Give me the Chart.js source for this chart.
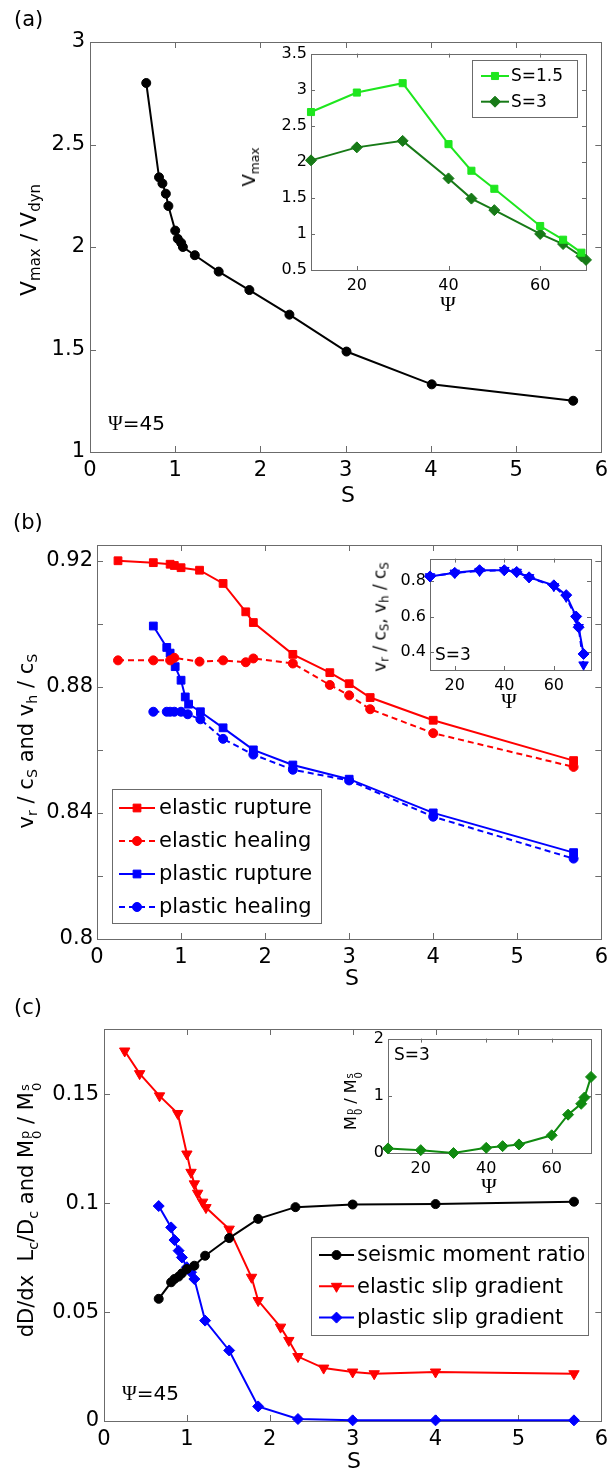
<!DOCTYPE html>
<html>
<head>
<meta charset="utf-8">
<script src="https://cdn.jsdelivr.net/npm/chart.js@4.4.1/dist/chart.umd.min.js"></script>
<style>
  html, body { margin: 0; padding: 0; background: #fff; }
  #fig { position: relative; width: 614px; height: 1477px; overflow: hidden;
         font-family: 'DejaVu Sans', sans-serif; color: #000; }
  canvas { position: absolute; }
  .t { position: absolute; white-space: nowrap; line-height: 1; }
  .c { transform: translate(-50%, -50%); }
  .r { transform: translate(-50%, -50%) rotate(-90deg); }
  sub { font-size: 0.68em; vertical-align: -0.3em; line-height: 0; }
  .ss { display: inline-flex; flex-direction: column; font-size: 0.62em; line-height: 0.95;
        vertical-align: 0.32em; margin-left: 1px; }
  .g { font-family: 'Liberation Serif', serif; }
</style>
</head>
<body>
<div id="fig">
  <canvas id="mainA"></canvas>
  <canvas id="mainB"></canvas>
  <canvas id="mainC"></canvas>
  <canvas id="insetA"></canvas>
  <canvas id="insetB"></canvas>
  <canvas id="insetC"></canvas>

  <div class="t" style="left:14px;top:9px;font-size:21px">(a)</div>
  <div class="t" style="left:13px;top:512px;font-size:21px">(b)</div>
  <div class="t" style="left:14px;top:997px;font-size:21px">(c)</div>

  <div class="t r" style="left:29px;top:240px;font-size:22px">V<sub>max</sub> / V<sub>dyn</sub></div>
  <div class="t c" style="left:348px;top:495px;font-size:22px">S</div>
  <div class="t" style="left:108px;top:413px;font-size:20px"><span class="g">Ψ</span>=45</div>
  <div class="t r" style="left:249px;top:167px;font-size:18px">V<sub>max</sub></div>
  <div class="t c g" style="left:448px;top:304px;font-size:21px">Ψ</div>

  <div class="t r" style="left:26px;top:741px;font-size:21px">v<sub>r</sub> / c<sub>S</sub> and v<sub>h</sub> / c<sub>S</sub></div>
  <div class="t c" style="left:352px;top:978px;font-size:22px">S</div>
  <div class="t r" style="left:380px;top:617px;font-size:17px">v<sub>r</sub> / c<sub>S</sub>, v<sub>h</sub> / c<sub>S</sub></div>
  <div class="t c g" style="left:509px;top:701px;font-size:21px">Ψ</div>
  <div class="t" style="left:435px;top:646px;font-size:17px">S=3</div>

  <div class="t r" style="left:30px;top:1210px;font-size:21px">dD/dx&nbsp; L<sub>c</sub>/D<sub>c</sub> and M<span class="ss"><span>p</span><span>0</span></span> / M<span class="ss"><span>s</span><span>0</span></span></div>
  <div class="t c" style="left:354px;top:1461px;font-size:22px">S</div>
  <div class="t" style="left:122px;top:1383px;font-size:20px"><span class="g">Ψ</span>=45</div>
  <div class="t r" style="left:353px;top:1101px;font-size:16px">M<span class="ss"><span>p</span><span>0</span></span> / M<span class="ss"><span>s</span><span>0</span></span></div>
  <div class="t c g" style="left:489px;top:1186px;font-size:21px">Ψ</div>
  <div class="t" style="left:394px;top:1046px;font-size:17px">S=3</div>
</div>

<script>
// ──────────────────────────────────────────────
// Data
// ──────────────────────────────────────────────

// (a) V_max / V_dyn against S, Psi = 45
const aS = [0.66, 0.81, 0.85, 0.89, 0.92, 1.00, 1.03, 1.07, 1.09, 1.23, 1.51, 1.87, 2.34, 3.01, 4.01, 5.67];
const aV = [2.80, 2.34, 2.31, 2.26, 2.20, 2.08, 2.04, 2.02, 2.00, 1.96, 1.88, 1.79, 1.67, 1.49, 1.33, 1.25];

// (a) inset: V_max against Psi
const inAPsi15 = [10, 20, 30, 40, 45, 50, 60, 65, 69];
const inAV15 = [2.69, 2.96, 3.09, 2.245, 1.876, 1.626, 1.11, 0.92, 0.74];
const inAPsi3 = [10, 20, 30, 40, 45, 50, 60, 65, 69, 70];
const inAV3 = [2.02, 2.20, 2.29, 1.77, 1.49, 1.33, 1.00, 0.86, 0.69, 0.64];

// (b) rupture / healing speeds against S
const bElRupS = [0.25, 0.67, 0.87, 0.92, 1.0, 1.22, 1.5, 1.77, 1.86, 2.33, 2.77, 3.0, 3.25, 4.0, 5.67];
const bElRupV = [0.9200, 0.9194, 0.9189, 0.9185, 0.9178, 0.9170, 0.9128, 0.9038, 0.9004, 0.8903, 0.8845, 0.8810, 0.8766, 0.8694, 0.8566];
const bElHealS = [0.25, 0.67, 0.87, 0.92, 1.22, 1.5, 1.77, 1.86, 2.33, 2.77, 3.0, 3.25, 4.0, 5.67];
const bElHealV = [0.8884, 0.8884, 0.8884, 0.8892, 0.8880, 0.8884, 0.8878, 0.8890, 0.8874, 0.8806, 0.8773, 0.8729, 0.8653, 0.8546];
const bPlRupS = [0.67, 0.83, 0.87, 0.93, 1.0, 1.05, 1.09, 1.23, 1.5, 1.86, 2.33, 3.0, 4.0, 5.67];
const bPlRupV = [0.8993, 0.8925, 0.8907, 0.8864, 0.8821, 0.8768, 0.8745, 0.8721, 0.8670, 0.8600, 0.8552, 0.8507, 0.8400, 0.8274];
const bPlHealS = [0.67, 0.83, 0.87, 0.92, 1.0, 1.08, 1.23, 1.5, 1.86, 2.33, 3.0, 4.0, 5.67];
const bPlHealV = [0.8721, 0.8721, 0.8721, 0.8721, 0.8721, 0.8713, 0.8697, 0.8635, 0.8585, 0.8537, 0.8503, 0.8388, 0.8255];

// (b) inset: S = 3, against Psi
const inBPsi = [10, 20, 30, 40, 45, 50, 60, 65, 69, 70, 72];
const inBRup = [0.825, 0.845, 0.860, 0.860, 0.850, 0.820, 0.775, 0.720, 0.600, 0.540, 0.390];
const inBHeal = [0.825, 0.845, 0.855, 0.860, 0.850, 0.820, 0.770, 0.710, 0.590, 0.540, 0.330];

// (c) slip gradients and moment ratio against S
const cMomS = [0.66, 0.81, 0.85, 0.90, 0.94, 1.0, 1.09, 1.22, 1.51, 1.86, 2.31, 3.0, 4.0, 5.67];
const cMomV = [0.0561, 0.0637, 0.0652, 0.0663, 0.0678, 0.0698, 0.0713, 0.0759, 0.0840, 0.0928, 0.0982, 0.0994, 0.0996, 0.1007];
const cElS = [0.25, 0.43, 0.67, 0.89, 1.0, 1.05, 1.09, 1.13, 1.19, 1.23, 1.51, 1.78, 1.86, 2.13, 2.23, 2.34, 2.65, 3.0, 3.26, 4.0, 5.67];
const cElV = [0.1699, 0.1595, 0.1493, 0.1412, 0.1226, 0.1142, 0.1089, 0.1046, 0.1005, 0.0980, 0.0881, 0.0660, 0.0553, 0.0431, 0.0370, 0.0296, 0.0243, 0.0225, 0.0217, 0.0225, 0.0217];
const cPlS = [0.66, 0.81, 0.85, 0.90, 0.94, 1.0, 1.05, 1.09, 1.22, 1.51, 1.86, 2.34, 3.0, 4.0, 5.67];
const cPlV = [0.0987, 0.0889, 0.0831, 0.0782, 0.0751, 0.0706, 0.0683, 0.0652, 0.0461, 0.0324, 0.0067, 0.0009, 0.0003, 0.0003, 0.0003];

// (c) inset: M0p / M0s against Psi, S = 3
const inCPsi = [10, 20, 30, 40, 45, 50, 60, 65, 69, 70, 72];
const inCM = [0.08, 0.05, 0.00, 0.09, 0.12, 0.15, 0.31, 0.67, 0.86, 0.97, 1.33];

// ── Ticks ──
const sTicks = [0, 1, 2, 3, 4, 5, 6];
const aYTicks = [1, 1.5, 2, 2.5, 3];
const bYTicks = [0.80, 0.82, 0.84, 0.86, 0.88, 0.90, 0.92];
const bYLabels = [0.80, 0.84, 0.88, 0.92];
const cYTicks = [0, 0.05, 0.1, 0.15];
const psiTicks = [20, 40, 60];
const inAYTicks = [0.5, 1, 1.5, 2, 2.5, 3, 3.5];
const inBYTicks = [0.4, 0.6, 0.8];
const inCYTicks = [0, 1, 2];

// ── Colours ──
const RED = '#ff0000', BLUE = '#0000ff', BLACK = '#000000';
const LIGHT_GREEN = '#1ee61e', DARK_GREEN = '#177a17', MID_GREEN = '#108a10';

Chart.defaults.font.family = "'DejaVu Sans', sans-serif";
Chart.defaults.color = '#000';

const fmt = v => String(+v.toFixed(3));

// ── Plugins ──
// white plot background for the insets
const insetFill = {
  id: 'insetFill',
  beforeDraw(chart, args, o) {
    if (!o.on) return;
    const a = chart.chartArea;
    chart.ctx.save();
    chart.ctx.fillStyle = '#fff';
    chart.ctx.fillRect(a.left, a.top, a.right - a.left, a.bottom - a.top);
    chart.ctx.restore();
  }
};

// MATLAB-style box with inward ticks on all four sides
const boxTicks = {
  id: 'boxTicks',
  beforeDatasetsDraw(chart, args, o) {
    const { ctx, chartArea: a, scales } = chart;
    const len = o.len || 6;
    ctx.save();
    ctx.strokeStyle = '#6b6b6b';
    ctx.lineWidth = 1;
    ctx.beginPath();
    const xs = scales.x, ys = scales.y;
    xs.ticks.forEach(t => {
      if (t.value <= xs.min || t.value >= xs.max) return;
      const p = Math.round(xs.getPixelForValue(t.value)) + 0.5;
      ctx.moveTo(p, a.top); ctx.lineTo(p, a.top + len);
      ctx.moveTo(p, a.bottom); ctx.lineTo(p, a.bottom - len);
    });
    ys.ticks.forEach(t => {
      if (t.value <= ys.min || t.value >= ys.max) return;
      const p = Math.round(ys.getPixelForValue(t.value)) + 0.5;
      ctx.moveTo(a.left, p); ctx.lineTo(a.left + len, p);
      ctx.moveTo(a.right, p); ctx.lineTo(a.right - len, p);
    });
    ctx.stroke();
    ctx.strokeRect(Math.round(a.left) + 0.5, Math.round(a.top) + 0.5,
                   Math.round(a.right - a.left), Math.round(a.bottom - a.top));
    ctx.restore();
  }
};

// boxed legend placed inside the plot
const boxLegend = {
  id: 'boxLegend',
  afterDraw(chart, args, o) {
    if (!o.w) return;
    const ctx = chart.ctx;
    const x = o.x - o.ox, y = o.y - o.oy;
    ctx.save();
    ctx.fillStyle = '#fff';
    ctx.fillRect(x, y, o.w, o.h);
    ctx.strokeStyle = '#6b6b6b';
    ctx.lineWidth = 1;
    ctx.strokeRect(x + 0.5, y + 0.5, o.w, o.h);
    ctx.font = o.size + "px 'DejaVu Sans'";
    ctx.textBaseline = 'middle';
    chart.data.datasets.forEach((ds, i) => {
      const yy = o.row0 - o.oy + i * o.step;
      const x0 = o.line0 - o.ox, x1 = o.line1 - o.ox;
      ctx.strokeStyle = ds.borderColor;
      ctx.fillStyle = ds.borderColor;
      ctx.lineWidth = ds.borderWidth;
      ctx.setLineDash(ds.borderDash);
      ctx.beginPath(); ctx.moveTo(x0, yy); ctx.lineTo(x1, yy); ctx.stroke();
      ctx.setLineDash([]);
      ctx.lineWidth = 1;
      Chart.helpers.drawPoint(ctx, {
        pointStyle: ds.pointStyle, rotation: ds.pointRotation || 0,
        radius: ds.pointRadius, borderWidth: 1
      }, (x0 + x1) / 2, yy);
      ctx.fillStyle = '#000';
      ctx.fillText(ds.label, o.text - o.ox, yy + 1);
    });
    ctx.restore();
  }
};

Chart.register(insetFill, boxTicks, boxLegend);

// ── Helpers ──
function series(label, xs, ys, color, style, r, dash, extra) {
  return Object.assign({
    label,
    data: xs.map((x, i) => ({ x, y: ys[i] })),
    borderColor: color, backgroundColor: color,
    pointBackgroundColor: color, pointBorderColor: color,
    borderWidth: 2, pointStyle: style, pointRadius: r, pointBorderWidth: 1,
    borderDash: dash || [], tension: 0, clip: false
  }, extra || {});
}

function plot(id, box, area, o) {
  const cv = document.getElementById(id);
  cv.width = box.w; cv.height = box.h;
  cv.style.left = box.x + 'px'; cv.style.top = box.y + 'px';

  const axis = (lim, ticks, labels, pad, key, size) => ({
    type: 'linear', min: lim[0], max: lim[1],
    grid: { display: false, drawTicks: false },
    border: { display: false },
    afterBuildTicks: s => { s.ticks = ticks.map(v => ({ value: v })); },
    afterFit: s => { s[key] = size; },
    ticks: {
      autoSkip: false, maxRotation: 0, padding: pad, color: '#000',
      font: { size: o.font },
      callback: v => labels.some(l => Math.abs(l - v) < 1e-9) ? fmt(v) : ''
    }
  });

  return new Chart(cv, {
    type: 'line',
    data: { datasets: o.datasets },
    options: {
      responsive: false, animation: false, events: [],
      layout: {
        autoPadding: false,
        padding: { left: 0, top: area.t - box.y, right: box.x + box.w - area.r, bottom: 0 }
      },
      scales: {
        x: axis(o.xLim, o.xTicks, o.xLabels || o.xTicks, o.xPad, 'height', box.y + box.h - area.b),
        y: axis(o.yLim, o.yTicks, o.yLabels || o.yTicks, o.yPad, 'width', area.l - box.x)
      },
      plugins: {
        legend: { display: false },
        tooltip: { enabled: false },
        insetFill: { on: !!o.fill },
        boxTicks: { len: o.tickLen },
        boxLegend: o.legend ? Object.assign({ ox: box.x, oy: box.y }, o.legend) : {}
      }
    }
  });
}

const DOWN = { pointRotation: 180 };

// ── (a) ──
plot('mainA', { x: 0, y: 0, w: 614, h: 490 }, { l: 90, t: 42, r: 603, b: 452 }, {
  datasets: [series('Vmax/Vdyn', aS, aV, BLACK, 'circle', 4.5)],
  xLim: [0, 6], xTicks: sTicks, yLim: [1, 3], yTicks: aYTicks,
  font: 21, xPad: 6, yPad: 5, tickLen: 6
});

plot('insetA', { x: 230, y: 40, w: 370, h: 275 }, { l: 311, t: 53, r: 586, b: 270 }, {
  datasets: [
    series('S=1.5', inAPsi15, inAV15, LIGHT_GREEN, 'rect', 5),
    series('S=3', inAPsi3, inAV3, DARK_GREEN, 'rectRot', 5.5)
  ],
  xLim: [10, 70], xTicks: psiTicks, yLim: [0.5, 3.5], yTicks: inAYTicks,
  font: 16, xPad: 6, yPad: 4, tickLen: 4, fill: true,
  legend: { x: 472, y: 60, w: 105, h: 57, row0: 76, step: 25.7, line0: 481, line1: 509, text: 511, size: 17 }
});

// ── (b) ──
plot('mainB', { x: 0, y: 490, w: 614, h: 490 }, { l: 97, t: 545, r: 607, b: 939 }, {
  datasets: [
    series('elastic rupture', bElRupS, bElRupV, RED, 'rect', 5.5),
    series('elastic healing', bElHealS, bElHealV, RED, 'circle', 4.5, [6, 4]),
    series('plastic rupture', bPlRupS, bPlRupV, BLUE, 'rect', 5.5),
    series('plastic healing', bPlHealS, bPlHealV, BLUE, 'circle', 4.5, [6, 4])
  ],
  xLim: [0, 6], xTicks: sTicks, yLim: [0.8, 0.925], yTicks: bYTicks, yLabels: bYLabels,
  font: 21, xPad: 6, yPad: 4, tickLen: 6,
  legend: { x: 112, y: 789, w: 209, h: 134, row0: 808, step: 33, line0: 119, line1: 155, text: 159, size: 21 }
});

plot('insetB', { x: 360, y: 545, w: 250, h: 170 }, { l: 430, t: 556, r: 591, b: 670 }, {
  datasets: [
    series('rupture', inBPsi, inBRup, BLUE, 'rectRot', 5.5),
    series('healing', inBPsi, inBHeal, BLUE, 'triangle', 5.5, [6, 4], DOWN)
  ],
  xLim: [10, 75], xTicks: psiTicks, yLim: [0.3, 0.925], yTicks: inBYTicks,
  font: 16, xPad: 6, yPad: 4, tickLen: 4, fill: true
});

// ── (c) ──
plot('mainC', { x: 0, y: 980, w: 614, h: 497 }, { l: 104, t: 1029, r: 605, b: 1421 }, {
  datasets: [
    series('seismic moment ratio', cMomS, cMomV, BLACK, 'circle', 4.5),
    series('elastic slip gradient', cElS, cElV, RED, 'triangle', 6, null, DOWN),
    series('plastic slip gradient', cPlS, cPlV, BLUE, 'rectRot', 5.5)
  ],
  xLim: [0, 6], xTicks: sTicks, yLim: [0, 0.18], yTicks: cYTicks,
  font: 21, xPad: 6, yPad: 5, tickLen: 6,
  legend: { x: 311, y: 1237, w: 277, h: 98, row0: 1255, step: 31.3, line0: 319, line1: 354, text: 357, size: 21 }
});

plot('insetC', { x: 320, y: 1025, w: 290, h: 175 }, { l: 388, t: 1037, r: 591, b: 1153 }, {
  datasets: [series('M0p/M0s', inCPsi, inCM, MID_GREEN, 'rectRot', 5.5)],
  xLim: [10, 72], xTicks: psiTicks, yLim: [0, 2], yTicks: inCYTicks,
  font: 16, xPad: 6, yPad: 4, tickLen: 4, fill: true
});
</script>
</body>
</html>
